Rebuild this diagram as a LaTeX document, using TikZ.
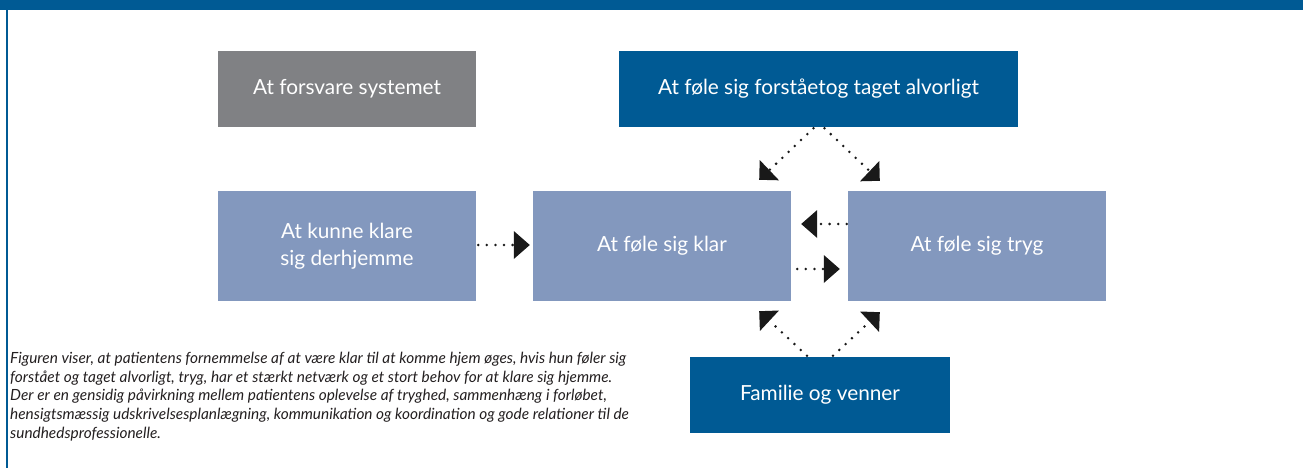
\documentclass[tikz,border=0pt]{standalone}
\usepackage{fontspec}
\setmainfont{Lato}
\usetikzlibrary{arrows.meta,calc}
\definecolor{darkblue}{RGB}{0,90,148}
\definecolor{lightblue}{RGB}{131,152,190}
\definecolor{boxgray}{RGB}{128,129,132}
\definecolor{captiontext}{RGB}{35,31,32}
\begin{document}
\begin{tikzpicture}[x=1pt,y=-1pt,
  box/.style={minimum width=258pt, minimum height=76pt, inner sep=0pt, text=white,
    font=\fontsize{20.8}{26.7}\selectfont, align=center},
  tall/.style={minimum height=110pt},
  dotline/.style={line width=2.8pt, dash pattern=on 0pt off 8.6pt, line cap=round, black!90},
  diagtip/.style={dotline, -{Triangle[length=14pt,width=28pt,line width=0pt]}},
  horztip/.style={dotline, -{Triangle[length=16pt,width=28pt,line width=0pt]}}
]
\useasboundingbox (0,0) rectangle (1303,468);
\fill[darkblue] (0,0) rectangle (1303,10);
\fill[darkblue] (6,10) rectangle (7.6,468);

\node[box, fill=boxgray] (sys) at (347,89) {At forsvare systemet};
\node[box, fill=darkblue, minimum width=399pt] (forst) at (818.5,89) {At føle sig forståetog taget alvorligt};
\node[box, tall, fill=lightblue] (hjem) at (347,246) {At kunne klare\\sig derhjemme};
\node[box, tall, fill=lightblue] (klar) at (662,246) {At føle sig klar};
\node[box, tall, fill=lightblue] (tryg) at (977,246) {At føle sig tryg};
\node[box, fill=darkblue, minimum width=260pt] (fam) at (820,395) {Familie og venner};

\node[anchor=north west, inner sep=0pt, align=left, text=captiontext,
  font=\fontsize{15.4}{18.8}\selectfont\itshape] (caption) at (10,351.8)
  {Figuren viser, at patientens fornemmelse af at være klar til at komme hjem øges, hvis hun føler sig\\
   forstået og taget alvorligt, tryg, har et stærkt netværk og et stort behov for at klare sig hjemme.\\
   Der er en gensidig påvirkning mellem patientens oplevelse af tryghed, sammenhæng i forløbet,\\
   hensigtsmæssig udskrivelsesplanlægning, kommunikation og koordination og gode relationer til de\\
   sundhedsprofessionelle.};

\draw[diagtip] ($(forst.south)+(-5,1)$) -- ($(klar.north east)+(-32,-11)$);
\draw[diagtip] ($(forst.south)+(6,1)$) -- ($(tryg.north west)+(32,-10)$);
\draw[horztip] ($(hjem.east)+(2,-1)$) -- ($(klar.west)+(-3,-1)$);
\draw[horztip] ($(tryg.west)+(-1,-22)$) -- ($(klar.east)+(10,-22)$);
\draw[horztip] ($(klar.east)+(6,23)$) -- ($(tryg.west)+(-8,23)$);
\draw[diagtip] ($(fam.north)+(-13,-1)$) -- ($(klar.south east)+(-32,10)$);
\draw[diagtip] ($(fam.north)+(13,-1)$) -- ($(tryg.south west)+(32,11)$);
\end{tikzpicture}
\end{document}
